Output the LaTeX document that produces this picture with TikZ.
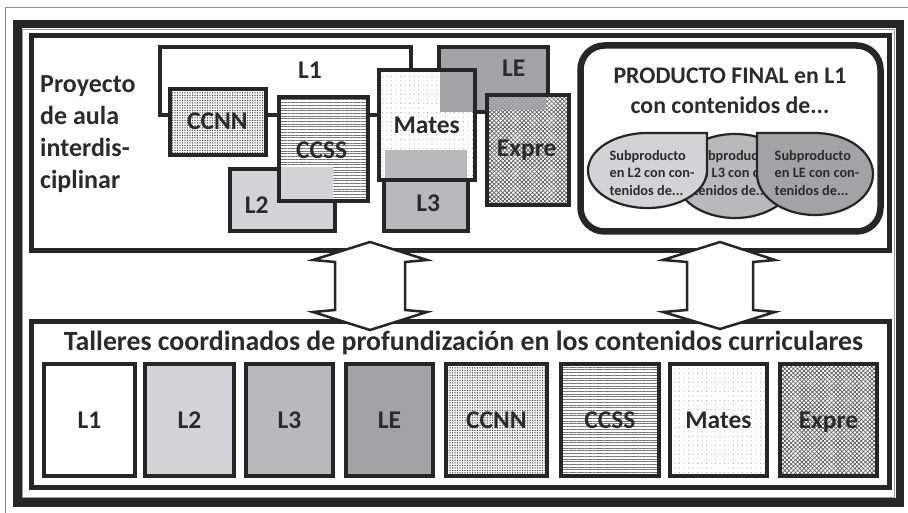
\documentclass[tikz,border=0pt]{standalone}
\usepackage{fontspec}
\setmainfont{Carlito}
\usetikzlibrary{patterns.meta}
\definecolor{ink}{HTML}{262626}
\definecolor{txt}{HTML}{2B2B2B}
\definecolor{gLtwo}{HTML}{D3D3D5}
\definecolor{gLthree}{HTML}{B9B9BB}
\definecolor{gLE}{HTML}{A3A3A5}
\begin{document}
\begin{tikzpicture}[x=1pt,y=-1pt,
  box/.style={draw=ink, line width=3.6pt},
  bbox/.style={draw=ink, line width=4.2pt},
  lbl/.style={font=\fontsize{25.5}{28}\selectfont\bfseries, text=txt, inner sep=0pt, anchor=base},
  sub/.style={font=\fontsize{14.3}{17.7}\selectfont\bfseries, text=txt, inner sep=0pt, align=left},
  teardrop/.style={draw=ink, line width=2.2pt},
  dblarrow/.style={draw=ink, line width=2.5pt, fill=white, line join=miter},
  patCCNN/.style={preaction={fill=white}, pattern={Dots[distance=2.5pt,radius=0.75pt]}, pattern color=black!75},
  patCCSS/.style={preaction={fill=white}, pattern={Lines[angle=0,distance=2.7pt,line width=0.9pt]}, pattern color=black!55},
  patMates/.style={preaction={fill=white}, pattern={Dots[distance=4.5pt,radius=0.45pt]}, pattern color=black!55},
  patExpre/.style={preaction={fill=white},
     preaction={pattern={Lines[angle=45,distance=3pt,line width=0.7pt]}, pattern color=black!65},
     pattern={Lines[angle=-45,distance=3pt,line width=0.7pt]}, pattern color=black!65}]
\useasboundingbox (0,0) rectangle (908,513);
\fill[white] (0,0) rectangle (908,513);
% frames
\draw[black!45, line width=0.8pt] (5,513) -- (5,7) -- (908,7);
\draw[ink, line width=8.5pt] (17.5,24) rectangle (900,502.5);
\draw[black!40, line width=0.7pt] (22.8,29.5) rectangle (894.5,497);
\draw[ink, line width=5pt] (31.5,35.5) rectangle (889.5,250.5);
\draw[ink, line width=5pt] (31.5,321.5) rectangle (889.5,487.5);
% left title
\node[anchor=north west, align=left, inner sep=0pt, font=\fontsize{26}{32}\selectfont\bfseries, text=txt] (proy) at (40,75) {Proyecto\\de aula\\interdis-\\ciplinar};
% top boxes
\draw[box, fill=white] (160,47) rectangle (411,115);
\node[lbl] (tL1) at (310,78.3) {L1};
\draw[box, patCCNN] (170,89) rectangle (266,155);
\node[lbl] (tCCNN) at (217.5,130) {CCNN};
\draw[box, fill=gLtwo] (230,169) rectangle (335,231);
\node[lbl] (tL2) at (256.7,213.3) {L2};
\draw[box, patCCSS] (279,97) rectangle (368,201);
\fill[gLtwo] (281,167) rectangle (333,199);
\node[lbl] (tCCSS) at (321.7,158.3) {CCSS};
\draw[box, fill=gLE] (439,47) rectangle (548,112);
\node[lbl] (tLE) at (513.8,76.7) {LE};
\draw[box, fill=gLthree] (384,170) rectangle (468,231);
\node[lbl] (tL3) at (428.3,211.7) {L3};
\draw[box, patMates] (379,70) rectangle (475,180);
\fill[gLthree] (385,150) rectangle (467,178);
\fill[gLE] (440,72) rectangle (473,112);
\node[lbl] (tMates) at (426.7,133.3) {Mates};
\draw[box, patExpre] (487,95) rectangle (569,205);
\fill[gLE, fill opacity=0.85] (489,97) rectangle (546,110);
\node[lbl] (tExpre) at (526.7,156.7) {Expre};
% producto final
\draw[ink, line width=6.5pt, rounded corners=24pt, fill=white] (580.5,45.5) rectangle (880.5,231.5);
\node[font=\fontsize{23.8}{30}\selectfont\bfseries, text=txt, align=center, inner sep=0pt] (pf) at (730,90.5) {PRODUCTO FINAL en L1\\con contenidos de...};
\draw[teardrop, fill=gLthree] (735,176) ellipse [x radius=60, y radius=42];
\node[sub] (s3) at (736,173) {Subproducto\\en L3 con con-\\tenidos de...};
\draw[teardrop, fill=gLtwo] (707,133) -- (647.5,133) arc[start angle=270, end angle=0, x radius=59.5, y radius=37.5] -- cycle;
\node[sub] (s2) at (652,173) {Subproducto\\en L2 con con-\\tenidos de...};
\draw[teardrop, fill=gLE] (757,133) -- (757,174) arc[start angle=180, end angle=-90, x radius=58, y radius=41] -- cycle;
\node[sub] (s4) at (817,173) {Subproducto\\en LE con con-\\tenidos de...};
% double arrows
\draw[dblarrow] (370,242) -- (427,260) -- (405,262) -- (405,310) -- (427,312) -- (370,330) -- (313,312) -- (335,310) -- (335,262) -- (313,260) -- cycle;
\draw[dblarrow] (720,242) -- (775,260) -- (753,262) -- (753,310) -- (775,312) -- (720,329) -- (663,312) -- (687,310) -- (687,262) -- (663,260) -- cycle;
% bottom
\node[font=\fontsize{27.8}{30}\selectfont\bfseries, text=txt, anchor=base, inner sep=0pt] (tall) at (463.5,350) {Talleres coordinados de profundización en los contenidos curriculares};
\draw[bbox, fill=white] (44,364) rectangle (135,476);
\node[lbl] (bL1) at (89.5,428.5) {L1};
\draw[bbox, fill=gLtwo] (145,364) rectangle (234,476);
\node[lbl] (bL2) at (189.5,428.5) {L2};
\draw[bbox, fill=gLthree] (246,364) rectangle (333,476);
\node[lbl] (bL3) at (289.5,428.5) {L3};
\draw[bbox, fill=gLE] (346,364) rectangle (433,476);
\node[lbl] (bLE) at (389.5,428.5) {LE};
\draw[bbox, patCCNN] (446,364) rectangle (547,476);
\node[lbl] (bCCNN) at (496.5,428.5) {CCNN};
\draw[bbox, patCCSS] (561,364) rectangle (659,476);
\node[lbl] (bCCSS) at (610,428.5) {CCSS};
\draw[bbox, patMates] (670,364) rectangle (767,476);
\node[lbl] (bMates) at (718.5,428.5) {Mates};
\draw[bbox, patExpre] (780,364) rectangle (877,476);
\node[lbl] (bExpre) at (828.5,428.5) {Expre};
\end{tikzpicture}
\end{document}
